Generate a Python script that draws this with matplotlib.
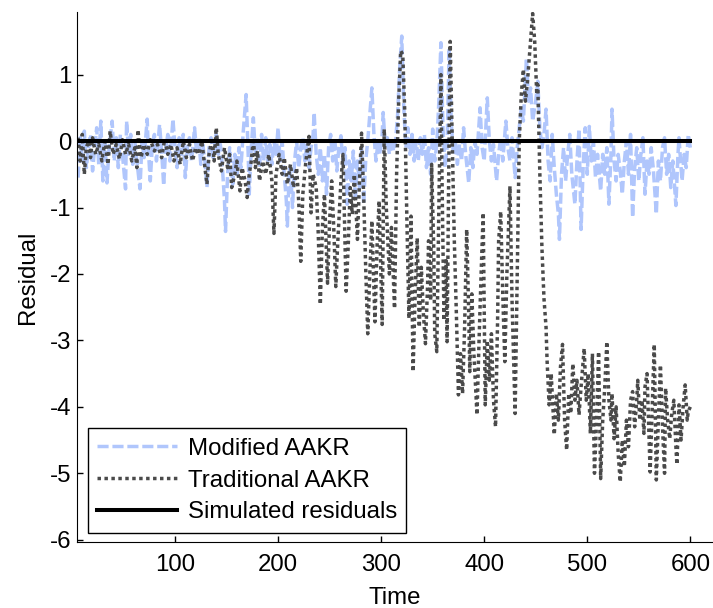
import matplotlib
matplotlib.use("Agg")
import matplotlib.pyplot as plt

plt.rcParams['font.family'] = ['Liberation Sans', 'DejaVu Sans']
plt.rcParams['axes.unicode_minus'] = False

# values (vertices of each trace)
mod_t = [6, 8, 10, 12, 14, 16, 18, 20, 22, 24,
         26, 28, 30, 32, 34, 36, 39, 41, 43, 45,
         47, 49, 52, 53, 55, 57, 59, 61, 63, 66,
         68, 70, 73, 74, 76, 78, 80, 82, 85, 87,
         89, 91, 93, 95, 98, 100, 102, 104, 106, 108,
         110, 112, 114, 116, 119, 121, 123, 125, 127, 129,
         131, 133, 135, 137, 140, 142, 144, 146, 148, 149,
         151, 153, 156, 158, 160, 162, 164, 166, 169, 171,
         172, 174, 176, 178, 180, 182, 184, 186, 188, 190,
         192, 194, 196, 198, 200, 202, 204, 206, 208, 209,
         211, 213, 214, 216, 218, 220, 222, 224, 226, 228,
         230, 232, 234, 235, 237, 239, 241, 243, 245, 247,
         249, 251, 253, 255, 257, 259, 261, 263, 265, 267,
         269, 271, 273, 275, 277, 279, 281, 283, 285, 287,
         289, 291, 293, 295, 297, 299, 301, 302, 304, 306,
         308, 310, 312, 314, 316, 318, 320, 322, 324, 326,
         328, 330, 332, 334, 336, 338, 340, 342, 344, 346,
         348, 350, 352, 354, 356, 358, 360, 362, 364, 366,
         368, 370, 372, 374, 376, 378, 380, 382, 385, 387,
         389, 391, 393, 396, 398, 400, 403, 405, 407, 409,
         412, 414, 416, 418, 421, 423, 425, 427, 430, 432,
         434, 436, 438, 441, 443, 445, 447, 450, 452, 454,
         456, 458, 460, 462, 464, 466, 468, 470, 472, 473,
         475, 477, 479, 481, 483, 485, 488, 490, 492, 494,
         496, 498, 500, 502, 504, 506, 508, 510, 513, 515,
         517, 519, 521, 523, 524, 526, 528, 530, 532, 534,
         536, 538, 540, 542, 544, 546, 548, 550, 552, 554,
         556, 558, 560, 562, 564, 567, 569, 571, 573, 575,
         577, 579, 581, 583, 586, 588, 589, 591, 592, 594,
         596, 598, 600]
mod_v = [-0.55, 0.05, -0.3, 0.15, -0.4, -0.1, 0.1, -0.45, -0.1, 0.2,
         -0.35, 0.3, -0.6, 0.0, -0.63, -0.1, 0.3, -0.3, 0.05, -0.4,
         0.1, -0.2, -0.72, 0.3, -0.2, 0.1, -0.35, 0.0, -0.3, -0.72,
         0.0, -0.25, 0.33, -0.1, -0.6, -0.05, 0.1, -0.3, 0.25, -0.15,
         -0.67, -0.1, 0.1, -0.3, 0.33, -0.1, -0.4, 0.05, -0.2, 0.1,
         -0.55, -0.1, 0.05, -0.3, 0.2, -0.2, 0.05, -0.35, -0.05, -0.3,
         -0.7, -0.1, 0.05, -0.25, 0.1, -0.2, -0.05, -0.4, -0.9, -1.36,
         -0.5, -0.1, -0.65, -0.2, -0.5, -0.1, -0.4, 0.1, 0.7, -0.2,
         -0.8, -0.1, 0.35, -0.2, 0.05, -0.4, 0.1, -0.3, 0.05, -0.3,
         -0.05, -0.35, 0.0, -0.2, 0.2, -0.3, 0.0, -0.5, -0.9, -1.28,
         -0.4, -0.7, -1.0, -0.3, 0.0, -0.4, -0.1, 0.05, -0.3, -0.05,
         -0.4, -0.1, 0.1, 0.43, -0.2, -0.5, -0.1, -0.6, -0.2, -0.8,
         -0.1, 0.1, -0.3, 0.05, -0.45, -0.1, 0.08, -0.35, -0.1, -0.95,
         -0.3, -0.6, -0.15, -0.9, -0.3, -0.7, -0.1, -0.95, -0.3, 0.0,
         0.4, 0.8, 0.1, -0.3, 0.0, -0.2, 0.1, 0.43, -0.1, 0.05,
         -0.2, 0.05, -0.15, 0.0, 0.4, 1.1, 1.58, 0.5, -0.1, 0.2,
         -0.2, 0.1, -0.3, 0.0, -0.3, 0.05, -0.2, 0.1, -0.4, -0.1,
         -0.5, 0.18, -0.3, -0.05, 0.6, 1.48, 0.2, -0.4, -0.1, 1.4,
         0.3, -0.2, 0.0, -0.35, -0.05, -0.3, 0.2, -0.2, -0.63, -0.1,
         -0.4, 0.0, -0.2, 0.5, -0.1, -0.3, 0.65, 0.0, -0.3, -0.05,
         -0.6, -0.2, 0.05, -0.3, 0.3, -0.1, -0.3, 0.05, -0.55, -0.1,
         0.2, 0.5, 0.3, 1.25, 0.6, 0.8, 0.3, 0.6, 0.9, 0.2,
         -0.1, 0.1, 0.48, -0.3, -0.6, 0.1, -0.4, -0.8, -1.1, -1.48,
         -0.5, -0.1, -0.6, -0.2, 0.1, -0.5, -0.95, -0.3, 0.18, -1.33,
         -0.4, 0.2, -0.5, 0.22, -0.3, 0.0, -0.55, -0.2, -0.75, -0.2,
         -0.5, -0.1, -0.95, -0.2, 0.48, -0.3, -0.6, -0.2, -0.45, -0.8,
         -0.3, 0.0, -0.5, 0.1, -1.15, -0.4, -0.1, -0.6, -0.2, 0.05,
         -0.8, -0.3, -0.5, -0.1, -0.4, -1.1, -0.3, -0.6, -0.1, 0.05,
         -0.5, -0.2, -0.7, -0.3, -0.97, -0.2, 0.05, -0.4, -0.6, -0.2,
         -0.4, 0.1, -0.1]

trad_t = [6, 8, 10, 12, 14, 16, 18, 20, 23, 26,
          29, 32, 35, 37, 40, 43, 46, 49, 52, 55,
          58, 61, 63, 64, 67, 70, 73, 76, 80, 83,
          87, 90, 93, 96, 99, 102, 105, 108, 111, 114,
          117, 120, 123, 126, 129, 131, 133, 136, 138, 140,
          142, 145, 148, 151, 153, 155, 158, 160, 163, 165,
          168, 170, 172, 174, 176, 178, 180, 182, 185, 188,
          191, 194, 196, 198, 201, 204, 206, 209, 212, 215,
          218, 220, 222, 224, 227, 230, 232, 234, 237, 239,
          241, 243, 245, 248, 250, 252, 254, 256, 258, 261,
          263, 266, 268, 270, 272, 274, 277, 279, 281, 283,
          285, 287, 289, 291, 294, 296, 298, 301, 303, 305,
          308, 310, 313, 315, 317, 319, 321, 323, 325, 327,
          329, 331, 333, 335, 337, 339, 341, 343, 345, 346,
          348, 349, 351, 352, 354, 356, 358, 359, 361, 363,
          364, 366, 367, 369, 371, 373, 375, 377, 379, 381,
          383, 385, 386, 388, 390, 393, 395, 397, 399, 401,
          403, 405, 407, 409, 411, 413, 414, 416, 418, 420,
          422, 425, 427, 430, 432, 434, 436, 438, 440, 442,
          444, 447, 449, 451, 452, 454, 456, 458, 460, 461,
          463, 465, 468, 470, 472, 474, 476, 478, 480, 482,
          484, 486, 488, 490, 492, 494, 497, 499, 501, 503,
          505, 507, 509, 511, 513, 515, 517, 519, 521, 523,
          524, 526, 528, 530, 532, 534, 536, 538, 540, 542,
          544, 546, 548, 549, 551, 553, 555, 556, 558, 560,
          561, 563, 565, 567, 569, 571, 573, 575, 576, 578,
          580, 582, 584, 586, 587, 589, 591, 593, 595, 597,
          598, 600]
trad_v = [0.05, -0.3, 0.1, -0.5, -0.1, 0.0, -0.25, 0.05, -0.2, -0.05,
          -0.3, 0.0, -0.35, 0.15, -0.2, -0.05, -0.27, 0.02, -0.2, -0.05,
          -0.3, -0.1, -0.4, 0.17, -0.25, -0.05, -0.2, 0.02, -0.15, -0.05,
          -0.25, 0.03, -0.2, -0.05, -0.3, -0.1, -0.35, 0.0, -0.25, -0.05,
          -0.3, -0.1, -0.2, 0.0, -0.4, -0.65, -0.2, 0.05, -0.3, 0.2,
          -0.2, -0.45, -0.1, -0.4, -0.2, -0.7, -0.5, -0.3, -0.75, -0.4,
          -0.6, -0.85, -0.5, -0.3, 0.05, -0.4, -0.15, -0.6, -0.3, -0.5,
          -0.2, -0.6, -1.39, -0.5, -0.2, -0.5, -0.25, -0.65, -0.35, -0.7,
          -0.4, -0.9, -1.81, -0.8, -0.3, 0.07, -1.08, -0.5, -0.7, -1.4,
          -2.46, -1.3, -0.8, -2.14, -1.2, -0.6, -1.3, -2.19, -1.5, -0.6,
          -0.2, -2.26, -1.6, -0.7, -1.1, -0.5, -1.48, -0.6, 0.12, -0.8,
          -1.9, -2.9, -2.0, -1.2, -2.72, -1.6, -0.9, -2.76, 0.18, -1.0,
          -2.0, -1.3, -2.52, -0.5, 0.6, 1.36, 1.3, 0.4, -1.2, -2.67,
          -1.13, -3.47, -2.3, -1.46, -2.8, -1.9, -2.6, -3.05, -2.2, -1.5,
          -2.4, -0.35, -1.6, -2.9, -3.17, -1.0, 1.0, -0.5, -2.7, -1.8,
          -3.02, 0.2, 1.5, 0.0, -1.5, -2.6, -3.82, -3.2, -3.8, -2.8,
          -1.33, -2.6, -3.47, -2.3, -3.2, -4.12, -3.0, -2.0, -1.08, -3.97,
          -3.0, -3.6, -2.9, -3.9, -4.3, -2.69, -1.5, -1.06, -2.3, -3.32,
          -2.0, -0.68, -2.4, -4.1, -2.0, 0.0, 0.7, 1.08, 0.6, 0.9,
          1.3, 1.92, 1.5, 0.7, 0.85, -0.5, -1.6, -2.37, -2.8, -3.3,
          -3.97, -3.5, -4.42, -3.8, -4.2, -3.4, -3.06, -4.2, -4.65, -3.8,
          -4.1, -3.35, -3.9, -3.6, -4.12, -3.7, -3.12, -3.9, -3.5, -4.4,
          -3.2, -5.0, -4.2, -3.17, -5.08, -4.2, -3.7, -3.02, -3.9, -4.2,
          -3.8, -4.48, -4.0, -4.7, -5.13, -4.5, -4.9, -4.2, -4.6, -3.9,
          -3.77, -4.3, -3.9, -3.6, -4.2, -3.9, -4.4, -3.7, -3.5, -4.5,
          -4.98, -4.0, -3.06, -5.1, -4.2, -3.37, -4.3, -5.0, -3.72, -4.2,
          -4.48, -4.1, -3.9, -4.6, -4.87, -3.97, -4.5, -4.0, -3.67, -4.2,
          -4.07, -4.0]

sim_t = [6, 600]
sim_v = [0.0, 0.0]

xticks = [100, 200, 300, 400, 500, 600]
yticks = [-6, -5, -4, -3, -2, -1, 0, 1]

assert len(mod_t) == len(mod_v)
assert len(trad_t) == len(trad_v)

fig = plt.figure(figsize=(7.13, 6.08), dpi=100)
ax = fig.add_axes([0.108, 0.109, 0.892, 0.871])

ax.plot(mod_t, mod_v, color='#b0c6fc', lw=2.5, linestyle=(0, (3.2, 1.1)),
        dash_capstyle='butt', label='Modified AAKR')
ax.plot(trad_t, trad_v, color='#4a4a4a', lw=2.5, linestyle=(0, (1.0, 1.0)),
        dash_capstyle='butt', label='Traditional AAKR')
ax.plot(sim_t, sim_v, color='black', lw=2.9, label='Simulated residuals')

ax.set_xlim(4.9, 622)
ax.set_ylim(-6.03, 1.94)
ax.set_xticks(xticks)
ax.set_yticks(yticks)
ax.tick_params(direction='in', length=4, width=1, labelsize=17.3)
ax.tick_params(axis='x', pad=9)
ax.tick_params(axis='y', pad=4)
ax.spines['top'].set_visible(False)
ax.spines['right'].set_visible(False)
ax.set_xlabel('Time', fontsize=17.3, labelpad=8)
ax.set_ylabel('Residual', fontsize=17.3, labelpad=8)

leg = ax.legend(loc='lower left', bbox_to_anchor=(0.017, 0.017), fontsize=17.3,
                handlelength=3.3, handletextpad=0.45, labelspacing=0.4,
                borderaxespad=0, fancybox=False, framealpha=1, borderpad=0.4)
leg.get_frame().set_edgecolor('black')
leg.get_frame().set_linewidth(1.0)

fig.savefig('out.png', dpi=100)
